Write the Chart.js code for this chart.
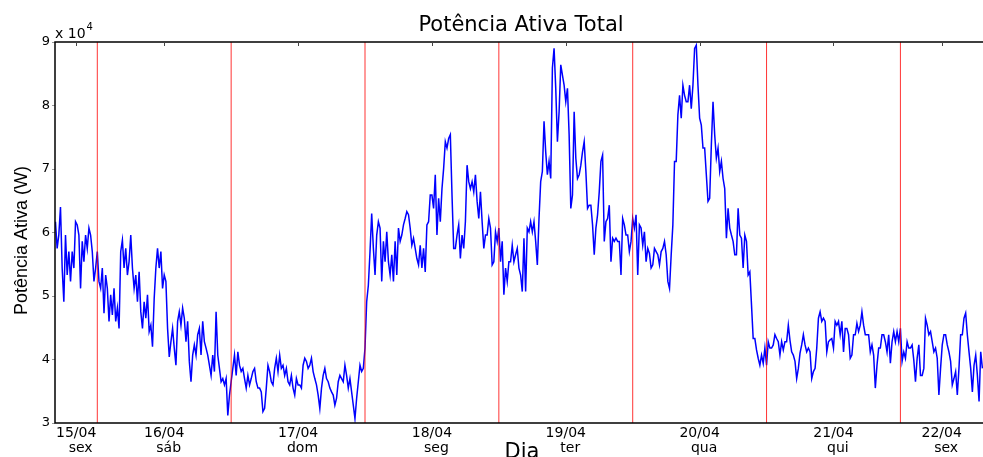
<!DOCTYPE html>
<html lang="pt-BR">
<head>
<meta charset="utf-8">
<title>Potência Ativa Total</title>
<script src="https://cdn.jsdelivr.net/npm/chart.js@4.4.1/dist/chart.umd.min.js"></script>
<style>
  html, body { margin: 0; padding: 0; background: #fff; overflow: hidden; }
  #grafico { display: block; }
</style>
</head>
<body>
<canvas id="grafico" width="983" height="457"></canvas>
<script>
// Potência ativa total em kW, uma leitura a cada 18 min
// 15/04 começa às 16:30, os outros dias à 00:00
const pot15 = [61.7, 57.5, 59.6, 64.0, 54.4, 49.1, 59.6, 53.3, 57.0, 52.3, 57.0, 54.4, 61.7, 61.2, 59.6, 51.2, 58.6, 55.4, 59.6, 57.5,
    60.7, 59.6, 57.0, 52.3, 54.4];
const pot16 = [57.0, 52.3, 51.2, 54.4, 47.3, 53.3, 51.2, 46.0, 50.2, 47.0, 51.2, 46.0, 48.1, 44.9, 57.0, 58.8, 54.4, 57.5, 53.3, 55.4,
    59.6, 54.4, 51.2, 53.3, 49.1, 53.8, 47.5, 44.9, 49.1, 46.5, 50.2, 44.4, 45.4, 42.0, 49.6, 54.4, 57.5, 54.4, 57.0, 51.2,
    53.3, 52.3, 44.9, 40.4, 42.8, 44.9, 41.8, 39.1, 46.0, 47.5, 45.4, 48.1, 46.5, 42.8, 46.0, 39.7, 36.5, 40.7, 42.3, 40.7,
    43.9, 44.9, 40.7, 46.0, 42.8, 41.8, 40.7, 39.1, 37.5, 40.7, 38.1, 47.5, 40.7, 38.6, 36.5, 37.0, 36.0, 37.0, 31.2, 34.4];
const pot17 = [36.5, 38.6, 40.7, 37.5, 41.2, 39.1, 38.1, 38.6, 37.0, 35.5, 37.5, 36.0, 37.0, 38.1, 38.6, 36.5, 35.5, 35.5, 34.9, 31.8,
    32.3, 35.5, 39.1, 38.1, 36.5, 36.0, 38.6, 40.2, 38.1, 40.7, 38.6, 39.1, 37.5, 38.6, 36.5, 36.0, 37.5, 35.5, 34.4, 37.0,
    36.0, 36.0, 35.5, 39.1, 40.2, 39.7, 38.6, 39.1, 40.2, 38.1, 37.0, 36.0, 34.4, 32.3, 35.5, 37.5, 38.6, 37.0, 36.5, 35.5,
    34.9, 34.4, 32.8, 33.9, 36.5, 37.5, 37.0, 36.5, 39.1, 37.5, 35.5, 37.0, 34.9, 32.8, 30.7, 33.9, 36.5, 39.1, 38.1, 38.6];
const pot18 = [41.8, 49.1, 51.7, 57.0, 63.0, 57.5, 53.3, 59.6, 61.7, 60.7, 52.3, 58.6, 55.4, 60.1, 55.4, 53.3, 56.5, 52.3, 58.6, 53.3,
    60.7, 58.6, 59.6, 61.2, 62.2, 63.3, 62.8, 60.7, 58.0, 59.1, 57.5, 55.9, 54.9, 58.0, 54.4, 57.5, 53.8, 61.2, 61.7, 65.9,
    65.9, 63.8, 69.1, 59.6, 65.4, 61.7, 66.9, 70.1, 74.3, 73.3, 74.8, 75.4, 65.9, 57.5, 57.5, 59.6, 61.2, 55.9, 59.6, 57.5,
    61.7, 70.6, 68.0, 66.9, 68.0, 66.4, 69.1, 64.9, 62.2, 66.4, 61.7, 57.5, 59.6, 59.6, 62.2, 60.7, 54.9, 55.4, 60.1, 58.6];
const pot19 = [60.7, 55.4, 58.6, 50.2, 54.4, 52.3, 55.4, 55.4, 58.0, 55.4, 56.5, 57.5, 54.4, 53.3, 50.7, 59.1, 50.7, 60.7, 60.1, 61.7,
    60.1, 61.7, 58.6, 54.9, 62.2, 68.0, 69.6, 77.5, 72.7, 69.1, 71.2, 68.5, 85.9, 89.0, 82.7, 74.3, 79.0, 86.4, 84.8, 83.2,
    80.6, 82.7, 75.4, 63.8, 65.9, 79.0, 71.7, 68.5, 69.1, 70.6, 72.7, 74.3, 69.6, 63.8, 64.3, 64.3, 61.2, 56.5, 60.7, 62.8,
    66.4, 71.2, 72.2, 58.6, 61.7, 62.2, 64.3, 55.4, 59.1, 58.6, 59.1, 58.6, 58.6, 53.3, 62.2, 61.2, 59.6, 59.6, 57.0, 58.6];
const pot20 = [62.2, 60.7, 62.8, 53.3, 61.2, 60.7, 58.0, 60.1, 55.4, 57.5, 56.7, 54.4, 54.9, 57.5, 57.0, 56.5, 54.9, 57.0, 57.5, 58.6,
    56.5, 52.3, 51.2, 56.5, 61.2, 71.2, 71.2, 78.5, 81.6, 78.0, 83.2, 81.6, 80.6, 80.6, 83.2, 79.5, 83.2, 89.0, 89.5, 83.2,
    78.0, 76.9, 73.3, 73.3, 69.1, 64.9, 65.4, 73.8, 80.6, 75.4, 71.7, 73.3, 69.6, 71.2, 68.5, 66.9, 59.1, 63.8, 60.7, 59.6,
    58.6, 56.5, 56.5, 63.8, 59.6, 59.1, 54.4, 59.6, 58.6, 53.3, 53.8, 48.6, 43.3, 43.3, 41.5, 40.2, 39.1, 40.7, 39.4, 41.8];
const pot21 = [39.1, 42.8, 41.8, 41.8, 42.3, 43.9, 43.3, 42.8, 40.7, 42.8, 41.5, 42.8, 42.8, 45.4, 43.0, 41.2, 40.7, 39.7, 37.0, 38.6,
    41.0, 42.3, 43.9, 42.3, 41.2, 41.8, 41.2, 37.0, 38.1, 38.6, 41.8, 46.5, 47.5, 46.0, 46.5, 46.0, 41.2, 42.8, 43.1, 43.3,
    41.8, 46.0, 45.4, 46.0, 43.9, 46.0, 41.2, 44.9, 44.9, 43.9, 40.2, 40.7, 43.9, 43.9, 45.7, 44.4, 45.4, 47.5, 45.4, 43.9,
    43.9, 43.9, 41.2, 42.3, 40.7, 35.5, 39.1, 41.8, 41.8, 43.9, 43.9, 42.8, 41.2, 43.9, 39.4, 42.8, 44.4, 42.8, 44.4, 42.8];
const pot22 = [44.9, 39.7, 41.2, 40.2, 42.8, 41.8, 41.8, 42.3, 39.9, 36.5, 40.2, 42.3, 37.5, 37.5, 38.6, 46.5, 45.4, 43.9, 44.4, 42.8,
    41.2, 41.8, 40.2, 34.4, 38.6, 42.3, 43.9, 43.9, 42.3, 41.2, 39.7, 36.0, 37.0, 38.1, 34.4, 38.6, 43.9, 43.9, 46.5, 47.3,
    43.9, 41.2, 38.6, 34.9, 39.1, 40.7, 37.5, 33.4, 41.2, 38.6];

const rotulosData = ["15/04", "16/04", "17/04", "18/04", "19/04", "20/04", "21/04", "22/04"];
const rotulosDia = ["sex", "sáb", "dom", "seg", "ter", "qua", "qui", "sex"];
const ticksY = [30000, 40000, 50000, 60000, 70000, 80000, 90000];

const horaInicio = 16.5; // primeira leitura de 15/04
const passoHoras = 0.3;
const xMin = 0.684; // eixo x em dias a partir de 15/04 00:00
const xMax = 7.617;

// monta a série
const dias = [pot15, pot16, pot17, pot18, pot19, pot20, pot21, pot22];
const pontos = [];
dias.forEach((serie, d) => {
    const h0 = d === 0 ? horaInicio : 0;
    serie.forEach((v, i) => {
        pontos.push({ x: d + (h0 + i * passoHoras) / 24, y: v * 1000 });
    });
});

// rótulos no meio da parte visível de cada dia
const posRotulos = rotulosData.map((r, d) => (Math.max(d, xMin) + Math.min(d + 1, xMax)) / 2);

// linhas vermelhas na meia-noite
const linhasDia = [];
for (let d = 1; d < dias.length; d++) {
    linhasDia.push({
        data: [{ x: d, y: ticksY[0] }, { x: d, y: ticksY[ticksY.length - 1] }],
        borderColor: "rgba(255, 0, 0, 0.8)",
        borderWidth: 1,
        pointRadius: 0,
        order: 0,
    });
}

const moldura = {
    id: "moldura",
    afterDatasetsDraw(chart) {
        const { ctx, chartArea: a } = chart;
        const sx = chart.scales.x;
        ctx.save();
        ctx.strokeStyle = "#000";
        ctx.lineWidth = 1.5;
        ctx.beginPath();
        ctx.moveTo(a.right + 1, a.top);
        ctx.lineTo(a.left, a.top);
        ctx.lineTo(a.left, a.bottom);
        ctx.lineTo(a.right + 1, a.bottom);
        ctx.stroke();
        ctx.lineWidth = 1;
        ctx.strokeStyle = "#444";
        posRotulos.forEach((p) => {
            const x = Math.round(sx.getPixelForValue(p)) + 0.5;
            ctx.beginPath();
            ctx.moveTo(x, a.top);
            ctx.lineTo(x, a.top + 4);
            ctx.stroke();
        });
        ctx.restore();
    },
    afterDraw(chart) {
        const { ctx, chartArea: a } = chart;
        const cx = (a.left + a.right) / 2;
        ctx.save();
        ctx.fillStyle = "#000";
        // título
        ctx.font = "21px 'DejaVu Sans'";
        ctx.textAlign = "center";
        ctx.textBaseline = "alphabetic";
        ctx.fillText("Potência Ativa Total", cx + 2, 31);
        // multiplicador do eixo y
        ctx.textAlign = "left";
        ctx.font = "14px 'DejaVu Sans'";
        ctx.fillText("x 10", a.left, 38);
        const w = ctx.measureText("x 10").width;
        ctx.font = "10px 'DejaVu Sans'";
        ctx.fillText("4", a.left + w + 1, 30);
        // eixo x
        ctx.textAlign = "center";
        ctx.font = "21px 'DejaVu Sans'";
        ctx.fillText("Dia", cx + 3, 458);
        // eixo y
        ctx.translate(22, (a.top + a.bottom) / 2 + 8);
        ctx.rotate(-Math.PI / 2);
        ctx.font = "18px 'Liberation Sans'";
        ctx.textBaseline = "middle";
        ctx.fillText("Potência Ativa (W)", 0, 0);
        ctx.restore();
    },
};

const ctx = document.getElementById("grafico").getContext("2d");
const grafico = new Chart(ctx, {
    type: "line",
    data: {
        datasets: [{
            label: "Potência Ativa Total",
            data: pontos,
            borderColor: "#0000ff",
            borderWidth: 1.5,
            pointRadius: 0,
            tension: 0,
            order: 1,
        }, ...linhasDia],
    },
    options: {
        responsive: false,
        animation: false,
        events: [],
        layout: { padding: { top: 42, left: 0, right: 0, bottom: 0 } },
        plugins: {
            legend: { display: false },
            tooltip: { enabled: false },
            title: { display: false },
        },
        scales: {
            x: {
                type: "linear",
                min: xMin,
                max: xMax,
                afterBuildTicks: (s) => {
                    s.ticks = posRotulos.map((v) => ({ value: v }));
                },
                afterFit: (s) => {
                    s.height = 34;
                },
                grid: { display: false, drawTicks: false },
                border: { display: false },
                ticks: {
                    autoSkip: false,
                    maxRotation: 0,
                    padding: 3,
                    color: "#000",
                    font: { family: "DejaVu Sans", size: 14, lineHeight: 1.07 },
                    callback: (v, i) => [rotulosData[i], "  " + rotulosDia[i]],
                },
            },
            y: {
                min: ticksY[0],
                max: ticksY[ticksY.length - 1],
                afterBuildTicks: (s) => {
                    s.ticks = ticksY.map((v) => ({ value: v }));
                },
                afterFit: (s) => {
                    s.width = 55;
                },
                grid: { drawOnChartArea: false, drawTicks: true, tickLength: 3, color: "#999" },
                border: { display: false },
                ticks: {
                    padding: 2,
                    color: "#000",
                    font: { family: "DejaVu Sans", size: 13 },
                    callback: (v) => v / 10000,
                },
            },
        },
    },
    plugins: [moldura],
});
</script>
</body>
</html>
